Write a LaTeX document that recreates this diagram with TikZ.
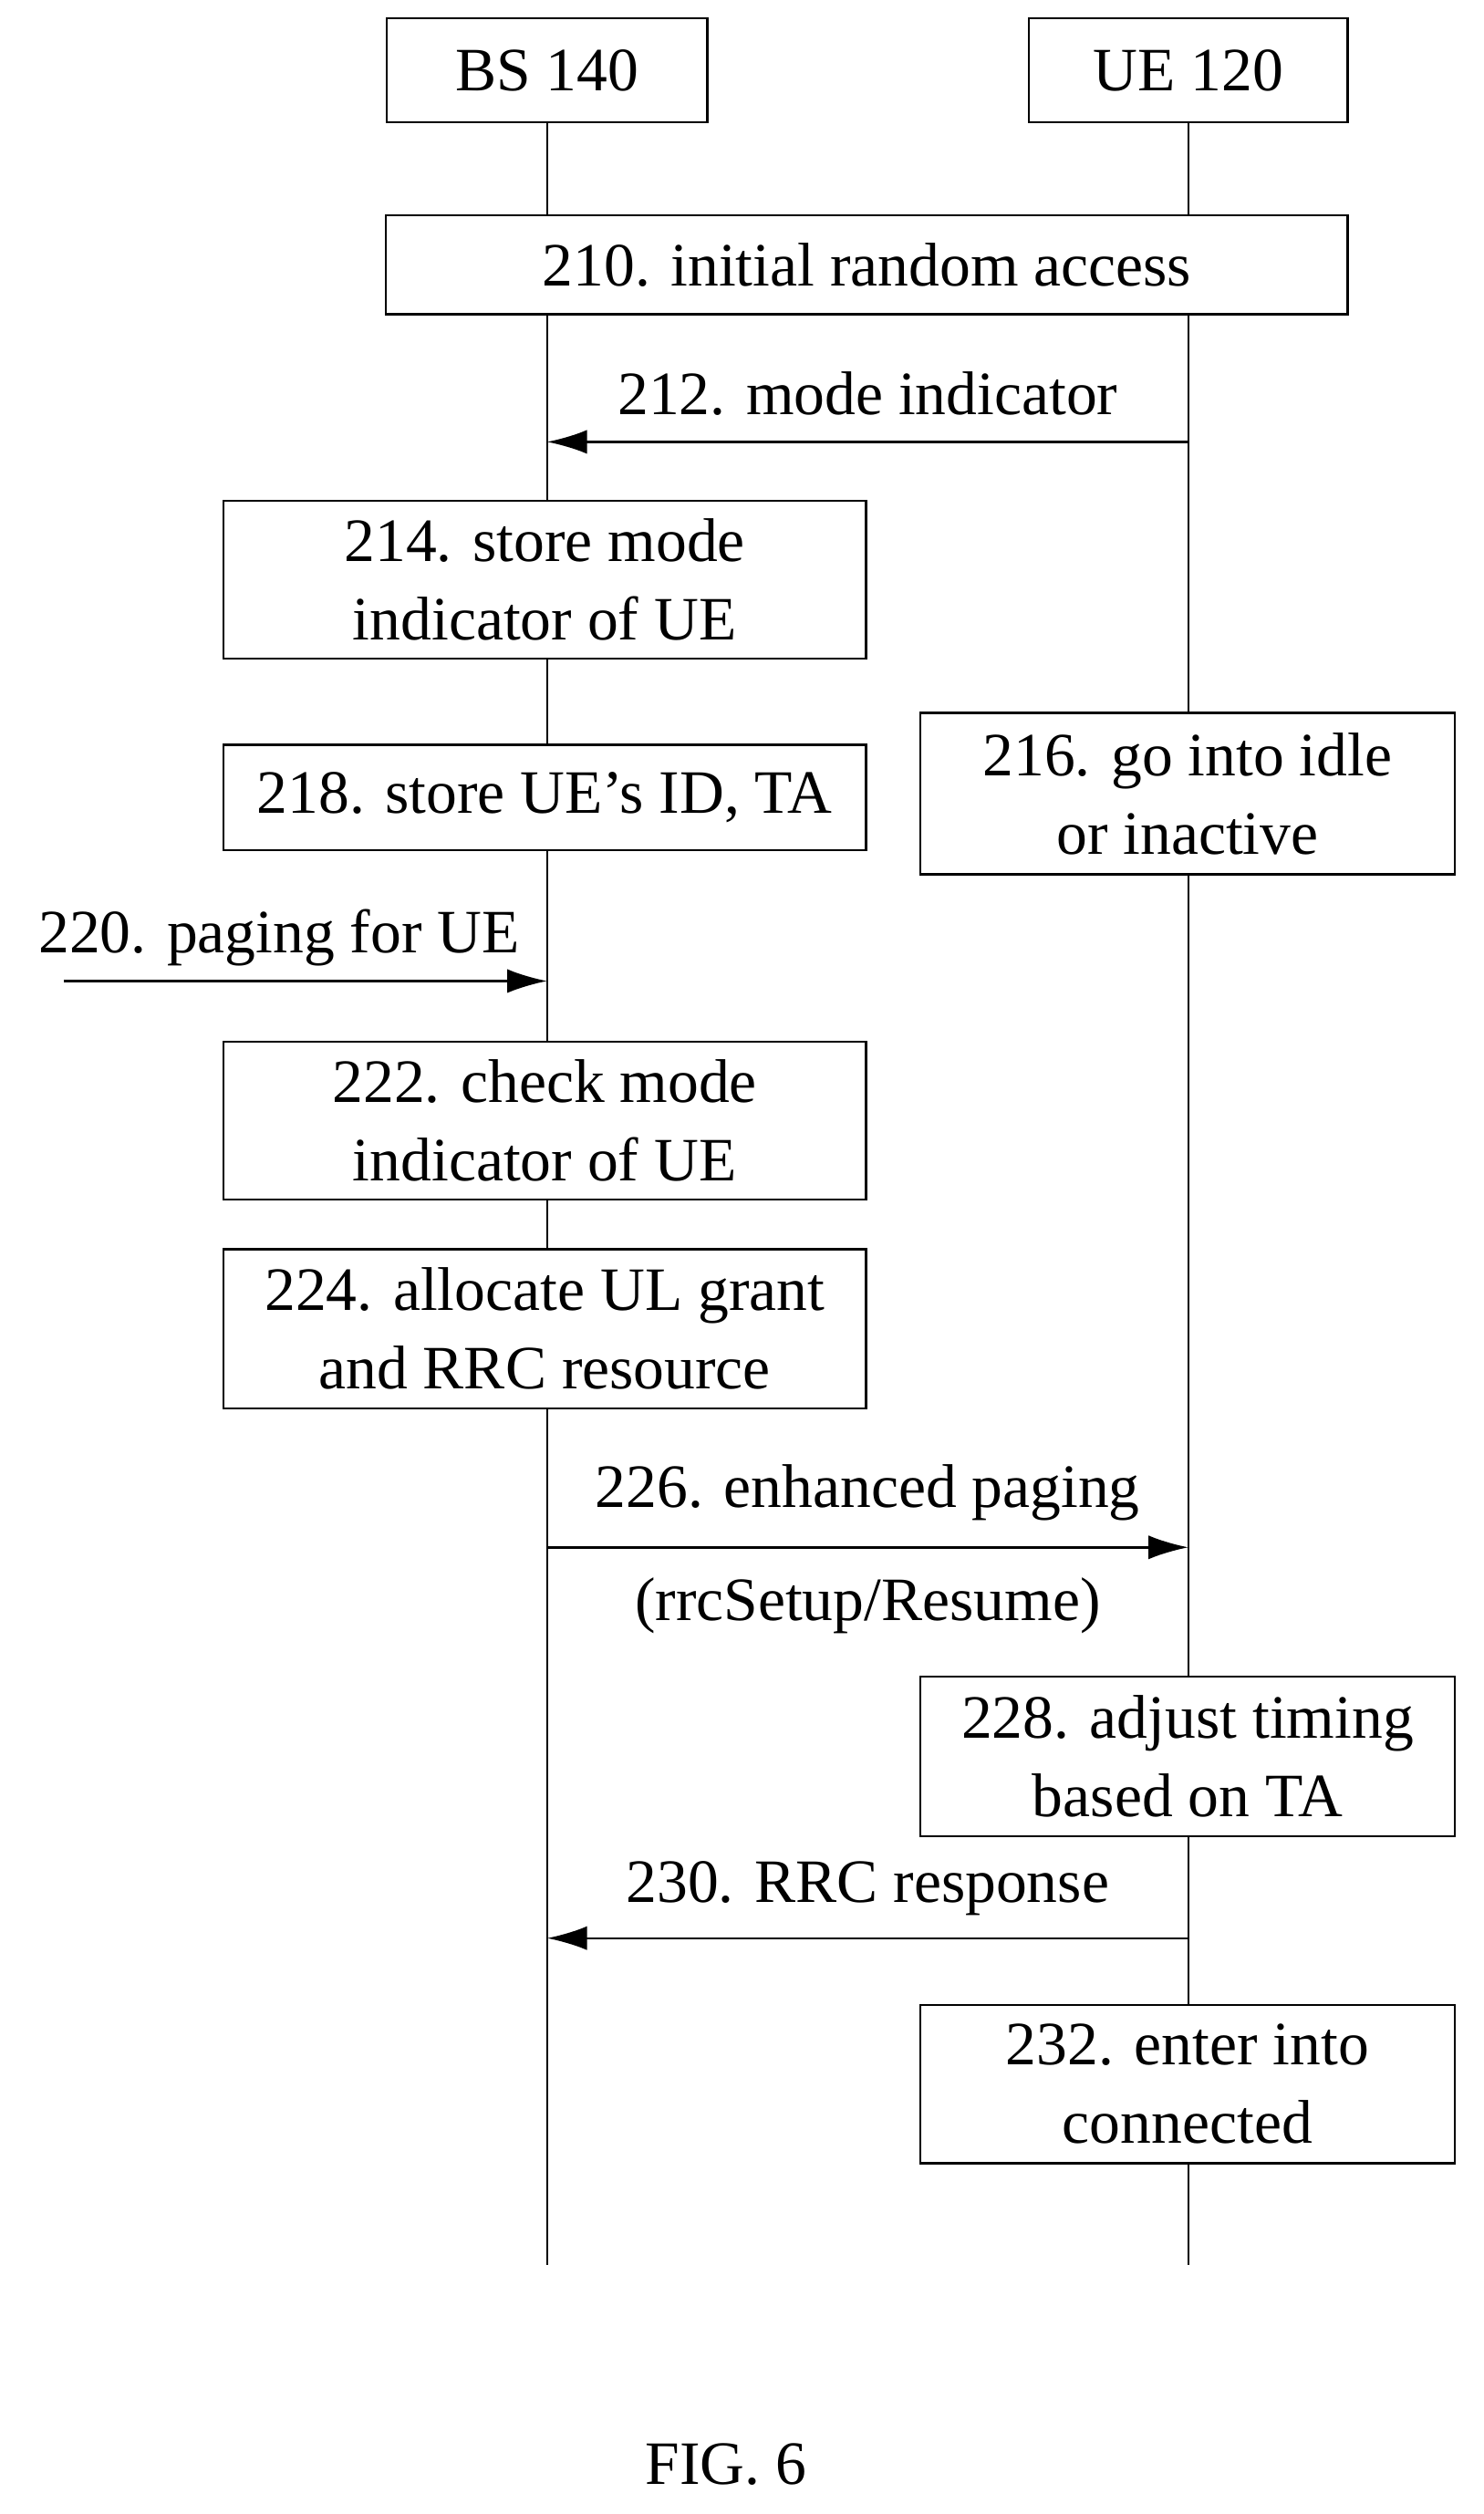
\documentclass[tikz,border=0pt]{standalone}
\usepackage{fontspec}
\setmainfont{Liberation Serif}
\usetikzlibrary{arrows.meta}

\begin{document}
\begin{tikzpicture}[x=0.02cm, y=-0.02cm,
    every node/.style={font=\fontsize{22}{28}\selectfont},
    box/.style={draw, thick, align=center, inner sep=0pt},
    msg/.style={thick, -{Latex[length=0.5cm,width=0.3cm]}}]
  \useasboundingbox (0,0) rectangle (930,1576);
  % entities
  \node[box, minimum width=201*0.02cm, minimum height=65*0.02cm] (bs) at (343,44) {BS 140};
  \node[box, minimum width=200*0.02cm, minimum height=65*0.02cm] (ue) at (745,44) {UE 120};
  \coordinate (bsend) at (343,1420);
  \coordinate (ueend) at (745,1420);
  \draw[thick] (bs) -- (bsend);
  \draw[thick] (ue) -- (ueend);
  % steps
  \node[box, fill=white, minimum width=603*0.02cm, minimum height=62*0.02cm] (s210) at (543.5,166) {210. initial random access};
  \node[box, fill=white, minimum width=403*0.02cm, minimum height=99*0.02cm] (s214) at (341.5,363.5) {214. store mode\\indicator of UE};
  \node[box, fill=white, minimum width=403*0.02cm, minimum height=66*0.02cm] (s218) at (341.5,500) {218. store UE’s ID, TA};
  \node[box, fill=white, minimum width=335*0.02cm, minimum height=101*0.02cm] (s216) at (744.5,497.5) {216. go into idle\\or inactive};
  \node[box, fill=white, minimum width=403*0.02cm, minimum height=99*0.02cm] (s222) at (341.5,702.5) {222. check mode\\indicator of UE};
  \node[box, fill=white, minimum width=403*0.02cm, minimum height=100*0.02cm] (s224) at (341.5,833) {224. allocate UL grant\\and RRC resource};
  \node[box, fill=white, minimum width=335*0.02cm, minimum height=100*0.02cm] (s228) at (744.5,1101) {228. adjust timing\\based on TA};
  \node[box, fill=white, minimum width=335*0.02cm, minimum height=99*0.02cm] (s232) at (744.5,1306.5) {232. enter into\\connected};
  % messages
  \coordinate (m212a) at (745,277); \coordinate (m212b) at (343,277);
  \draw[msg] (m212a) -- node[above=0.2cm] (l212) {212. mode indicator} (m212b);
  \coordinate (m220a) at (40,615); \coordinate (m220b) at (343,615);
  \draw[msg] (m220a) -- (m220b);
  \node (l220) at (175,588) {220. paging for UE};
  \coordinate (m226a) at (343,970); \coordinate (m226b) at (745,970);
  \draw[msg] (m226a) -- node[above=0.2cm] (l226) {226. enhanced paging}
    node[below=0.25cm] (l226b) {(rrcSetup/Resume)} (m226b);
  \coordinate (m230a) at (745,1215); \coordinate (m230b) at (343,1215);
  \draw[msg] (m230a) -- node[above=0.15cm] (l230) {230. RRC response} (m230b);
  \node (fig) at (455,1545) {FIG. 6};
\end{tikzpicture}
\end{document}
